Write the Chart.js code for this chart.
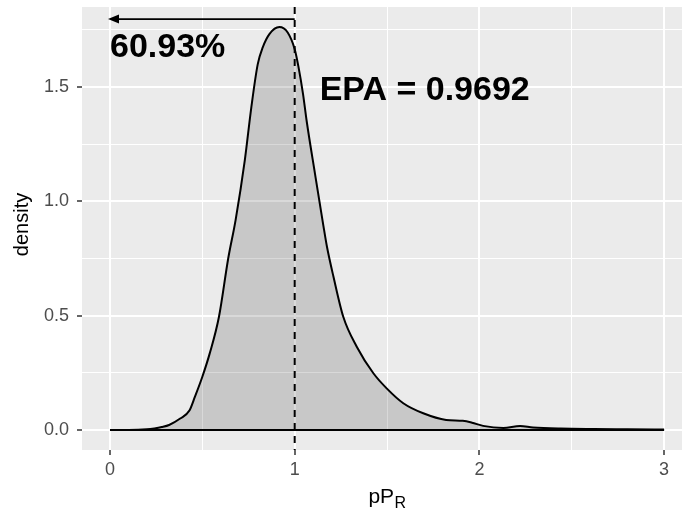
<!DOCTYPE html>
<html>
<head>
<meta charset="utf-8">
<script src="https://cdn.jsdelivr.net/npm/chart.js@4"></script>
<style>
  html, body { margin: 0; padding: 0; background: #fff; }
  canvas { display: block; }
</style>
</head>
<body>
<canvas id="densityChart" width="682" height="509"></canvas>
<script>
// density of pP_R
const pprX = [0, 0.1, 0.2, 0.24, 0.28, 0.32, 0.38, 0.43, 0.46, 0.5, 0.54, 0.59, 0.64, 0.68,
  0.73, 0.765, 0.80, 0.827, 0.863, 0.917, 0.962, 1.0, 1.02, 1.045, 1.065, 1.11, 1.155, 1.175,
  1.21, 1.263, 1.336, 1.426, 1.498, 1.588, 1.696, 1.82, 1.91, 1.96, 2.02, 2.13, 2.22,
  2.29, 2.44, 2.62, 2.8, 3.0];
const density = [0, 0, 0.003, 0.007, 0.013, 0.022, 0.05, 0.085, 0.146, 0.233, 0.335, 0.495, 0.75, 0.918,
  1.18, 1.41, 1.60, 1.673, 1.731, 1.762, 1.738, 1.665, 1.59, 1.47, 1.35, 1.12, 0.895, 0.80,
  0.67, 0.495, 0.364, 0.248, 0.182, 0.117, 0.073, 0.044, 0.040, 0.032, 0.018, 0.009, 0.017,
  0.011, 0.006, 0.004, 0.003, 0.002];

const xTicks = [0, 1, 2, 3];
const xMinor = [0.5, 1.5, 2.5];
const yTicks = [0, 0.5, 1.0, 1.5];
const yMinor = [0.25, 0.75, 1.25, 1.75];

// annotations
const cutoff = 1;
const arrowY = 1.797;
const arrowFrom = 1;
const arrowTo = 0;
const shareLabel = "60.93%";
const shareAt = [0, 1.67];
const epaLabel = "EPA = 0.9692";
const epaAt = [1.135, 1.482];

const FONT = "'Liberation Sans', Arial, Helvetica, sans-serif";

const panelBg = {
  id: "panelBg",
  beforeDraw(chart) {
    const { ctx, chartArea: a } = chart;
    ctx.save();
    ctx.fillStyle = "#EBEBEB";
    ctx.fillRect(a.left, a.top, a.right - a.left, a.bottom - a.top);
    ctx.restore();
  }
};

const annotations = {
  id: "annotations",
  afterDatasetsDraw(chart) {
    const { ctx, chartArea: a } = chart;
    const xs = chart.scales.x, ys = chart.scales.y;

    // dashed line at cutoff
    const vx = xs.getPixelForValue(cutoff);
    ctx.save();
    ctx.strokeStyle = "#000";
    ctx.lineWidth = 2;
    ctx.setLineDash([7, 6]);
    ctx.beginPath();
    ctx.moveTo(vx, a.top);
    ctx.lineTo(vx, a.bottom);
    ctx.stroke();
    ctx.restore();

    // arrow
    const ay = ys.getPixelForValue(arrowY);
    const x1 = xs.getPixelForValue(arrowFrom);
    const x2 = xs.getPixelForValue(arrowTo);
    ctx.save();
    ctx.strokeStyle = "#000";
    ctx.fillStyle = "#000";
    ctx.lineWidth = 1.8;
    ctx.beginPath();
    ctx.moveTo(x1, ay);
    ctx.lineTo(x2 + 8, ay);
    ctx.stroke();
    ctx.beginPath();
    ctx.moveTo(x2 - 2, ay);
    ctx.lineTo(x2 + 9, ay - 4.5);
    ctx.lineTo(x2 + 9, ay + 4.5);
    ctx.closePath();
    ctx.fill();

    // labels
    ctx.font = "bold 34px " + FONT;
    ctx.textAlign = "left";
    ctx.textBaseline = "middle";
    ctx.fillText(shareLabel, xs.getPixelForValue(shareAt[0]), ys.getPixelForValue(shareAt[1]));
    ctx.fillText(epaLabel, xs.getPixelForValue(epaAt[0]), ys.getPixelForValue(epaAt[1]));
    ctx.restore();
  },
  afterDraw(chart) {
    const { ctx, chartArea: a } = chart;
    ctx.save();
    ctx.fillStyle = "#000";
    // y title
    ctx.font = "20px " + FONT;
    ctx.textAlign = "center";
    ctx.textBaseline = "middle";
    ctx.translate(22, (a.top + a.bottom) / 2 - 4);
    ctx.rotate(-Math.PI / 2);
    ctx.fillText("density", 0, 0);
    ctx.restore();

    // x title pP with subscript R
    ctx.save();
    ctx.fillStyle = "#000";
    ctx.textBaseline = "alphabetic";
    ctx.textAlign = "left";
    ctx.font = "21px " + FONT;
    const main = "pP";
    const wMain = ctx.measureText(main).width;
    ctx.font = "16px " + FONT;
    const wSub = ctx.measureText("R").width;
    const cx = (a.left + 692) / 2;
    const start = cx - (wMain + wSub) / 2;
    ctx.font = "21px " + FONT;
    ctx.fillText(main, start, 503);
    ctx.font = "16px " + FONT;
    ctx.fillText("R", start + wMain + 0.5, 508);
    ctx.restore();
  }
};

function gridFor(major) {
  return {
    color: "#FFFFFF",
    lineWidth: (c) => (c.tick && major.includes(c.tick.value) ? 2 : 1),
    tickColor: (c) => (c.tick && major.includes(c.tick.value) ? "#333333" : "rgba(0,0,0,0)"),
    tickWidth: 1.5,
    tickLength: 5,
    drawOnChartArea: true
  };
}

new Chart(document.getElementById("densityChart"), {
  type: "line",
  data: {
    datasets: [
      {
        data: pprX.map((x, i) => ({ x: x, y: density[i] })),
        borderColor: "#000",
        borderWidth: 2,
        backgroundColor: "rgba(0,0,0,0.15)",
        fill: "origin",
        pointRadius: 0,
        cubicInterpolationMode: "monotone"
      },
      {
        data: [{ x: pprX[0], y: 0 }, { x: pprX[pprX.length - 1], y: 0 }],
        borderColor: "#000",
        borderWidth: 2,
        fill: false,
        pointRadius: 0
      }
    ]
  },
  options: {
    responsive: false,
    animation: false,
    layout: { padding: { top: 7, right: 0, left: 0, bottom: 0 } },
    plugins: { legend: { display: false }, tooltip: { enabled: false } },
    scales: {
      x: {
        type: "linear",
        min: -0.1516,
        max: 3.097,
        afterBuildTicks: (s) => {
          s.ticks = [...xTicks, ...xMinor].sort((a, b) => a - b).map((v) => ({ value: v }));
        },
        afterFit: (s) => { s.height = 59; s.paddingLeft = 0; s.paddingRight = 0; },
        grid: gridFor(xTicks),
        border: { display: false },
        ticks: {
          autoSkip: false,
          maxRotation: 0,
          padding: 4,
          color: "#4D4D4D",
          font: { family: FONT, size: 18 },
          callback: (v) => (xTicks.includes(v) ? String(v) : "")
        }
      },
      y: {
        type: "linear",
        min: -0.0875,
        max: 1.8496,
        afterBuildTicks: (s) => {
          s.ticks = [...yTicks, ...yMinor].sort((a, b) => a - b).map((v) => ({ value: v }));
        },
        afterFit: (s) => { s.width = 82; s.paddingTop = 0; s.paddingBottom = 0; },
        grid: gridFor(yTicks),
        border: { display: false },
        ticks: {
          autoSkip: false,
          padding: 8,
          color: "#4D4D4D",
          font: { family: FONT, size: 18 },
          callback: (v) => (yTicks.includes(v) ? v.toFixed(1) : "")
        }
      }
    }
  },
  plugins: [panelBg, annotations]
});
</script>
</body>
</html>
